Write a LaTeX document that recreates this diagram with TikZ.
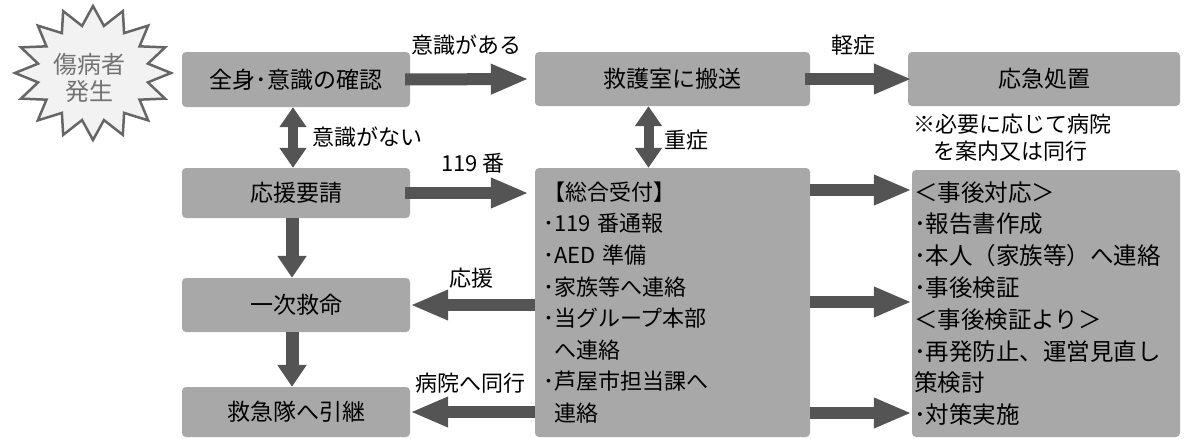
\documentclass[tikz,border=0pt]{standalone}
\usepackage{fontspec}
\setmainfont{Noto Sans CJK JP}
\usetikzlibrary{arrows.meta}
\definecolor{boxgray}{gray}{0.66}
\definecolor{arrgray}{gray}{0.33}
\definecolor{stargray}{gray}{0.40}
\tikzset{
  box/.style={fill=boxgray, rounded corners=4pt, inner sep=0pt, text=black,
              font=\fontsize{23pt}{28pt}\selectfont},
  lab/.style={inner sep=0pt, font=\fontsize{22pt}{27pt}\selectfont},
  harrow/.style={draw=arrgray, line width=12pt, -{Triangle[length=38pt,width=28pt]}, color=arrgray},
  varrow/.style={draw=arrgray, line width=13pt, -{Triangle[length=22pt,width=28pt]}, color=arrgray},
  darrow/.style={draw=arrgray, line width=10pt, {Triangle[length=20pt,width=26pt]}-{Triangle[length=20pt,width=26pt]}, color=arrgray},
}
\begin{document}
\begin{tikzpicture}[x=1pt,y=-1pt]
\useasboundingbox (0,0) rectangle (1184,439);
% starburst
\filldraw[draw=stargray, fill=black!5, line width=2.5pt, line join=miter]
  (171,73) \foreach \i in {1,...,31} {
    -- ({93+ifthenelse(mod(\i,2)==0,78,56)*cos(\i*11.25)},
        {73+ifthenelse(mod(\i,2)==0,67,48)*sin(\i*11.25)})
  } -- cycle;
\node[align=center, inner sep=0pt, text=black!55,
      font=\fontsize{24pt}{27pt}\selectfont] (s) at (89,78) {傷病者\\発生};
% boxes
\node[box, minimum width=228pt, minimum height=55pt] (n1) at (296,79.5) {全身･意識の確認};
\node[box, minimum width=275pt, minimum height=54pt] (n2) at (672.5,79) {救護室に搬送};
\node[box, minimum width=272pt, minimum height=54pt] (n3) at (1044,79) {応急処置};
\node[box, minimum width=228pt, minimum height=50pt] (n4) at (296,193) {応援要請};
\node[box, minimum width=228pt, minimum height=54pt] (n5) at (296,305) {一次救命};
\node[box, minimum width=228pt, minimum height=50pt] (n6) at (296,412) {救急隊へ引継};
\node[box, minimum width=275pt, minimum height=269pt, text width=259pt, align=left,
      font=\fontsize{22pt}{31.6pt}\selectfont] (n7) at (672.5,302.5)
  {【総合受付】\\･119 番通報\\･AED 準備\\･家族等へ連絡\\･当グループ本部\\\phantom{･}へ連絡\\･芦屋市担当課へ\\\phantom{･}連絡};
\node[box, minimum width=268pt, minimum height=267pt, text width=264pt, align=left,
      font=\fontsize{23.5pt}{31.8pt}\selectfont] (n8) at (1046,303.5)
  {＜事後対応＞\\･報告書作成\\･本人（家族等）へ連絡\\･事後検証\\＜事後検証より＞\\･再発防止、運営見直し\\策検討\\･対策実施};
% note
\node[lab, align=left, anchor=west] (note) at (913,138)
  {※必要に応じて病院\\\hspace*{0.9em}を案内又は同行};
% labels
\node[lab] (l1) at (466,45) {意識がある};
\node[lab] (l2) at (853,45) {軽症};
\node[lab, anchor=west] (l3) at (312,137) {意識がない};
\node[lab, anchor=west] (l4) at (664,140) {重症};
\node[lab] (l5) at (473,163) {119 番};
\node[lab] (l6) at (471,278) {応援};
\node[lab] (l7) at (470,383) {病院へ同行};
% connectors
\draw[harrow] ([xshift=-5pt]n1.east) -- ([xshift=-6pt]n2.west);
\draw[harrow] ([xshift=-5pt]n2.east) -- ([xshift=4pt]n3.west);
\draw[harrow] ([xshift=-5pt]n4.east) -- ([xshift=-6pt]n7.west |- n4.east);
\draw[harrow] (n7.west |- n5.east) -- (n5.east);
\draw[harrow] (n7.west |- n6.east) -- (n6.east);
\draw[harrow] (n7.east |- 0,190) -- (n8.west |- 0,190);
\draw[harrow] (n7.east |- 0,302) -- (n8.west |- 0,302);
\draw[harrow] (n7.east |- 0,413) -- (n8.west |- 0,413);
\draw[darrow] ([xshift=-3pt]n1.south) -- ([xshift=-3pt]n4.north);
\draw[darrow] ([xshift=-24pt]n2.south) -- ([xshift=-24pt]n2.south |- n7.north);
\draw[varrow] ([xshift=-4pt]n4.south) -- ([xshift=-4pt]n5.north);
\draw[varrow] ([xshift=-4pt]n5.south) -- ([xshift=-4pt]n6.north);
\end{tikzpicture}
\end{document}
